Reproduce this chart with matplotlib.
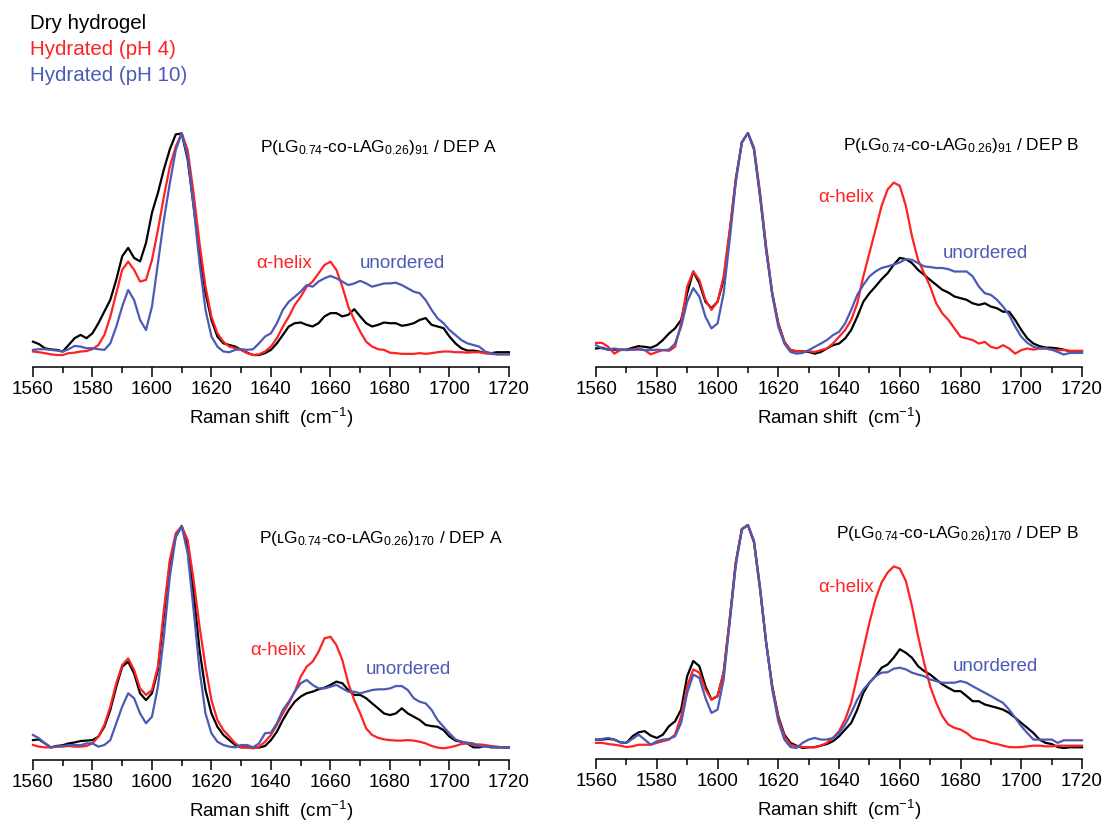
import numpy as np
import matplotlib
matplotlib.use('Agg')
import matplotlib.pyplot as plt
from matplotlib.ticker import MultipleLocator

plt.rcParams['font.family'] = ['Liberation Sans', 'DejaVu Sans']
plt.rcParams['mathtext.fontset'] = 'custom'
plt.rcParams['mathtext.rm'] = 'Liberation Sans'
plt.rcParams['mathtext.it'] = 'Liberation Sans:italic'

# Raman shift grid (cm-1), every 2 cm-1
wavenumber = np.arange(1560, 1721, 2)

# P(LG-co-LAG)91 / DEP A  (normalised, 1610 band = 100)
dry_91_A = [10.8, 9.8, 8.0, 7.5, 7.3, 6.6, 9.4, 12.3, 13.7, 12.3,
            14.4, 18.7, 23.7, 28.7, 37.3, 47.3, 50.9, 46.6, 45.1, 53.0,
            65.9, 74.4, 84.4, 93.0, 99.4, 99.8, 88.7, 68.7, 48.7, 31.6,
            20.1, 13.0, 10.1, 9.4, 8.7, 7.3, 6.1, 5.1, 5.1, 5.9,
            7.3, 10.1, 13.7, 17.3, 18.7, 19.0, 18.0, 17.3, 18.7, 21.6,
            23.0, 23.0, 21.6, 22.3, 24.7, 21.6, 18.7, 17.3, 18.0, 19.0,
            18.7, 18.7, 17.6, 18.0, 18.7, 20.1, 20.9, 18.0, 17.3, 16.6,
            13.0, 10.1, 8.0, 7.0, 7.0, 6.6, 5.9, 5.9, 6.3, 6.3,
            6.3]
ph4_91_A = [6.6, 6.3, 5.9, 5.4, 5.1, 5.1, 5.9, 6.1, 6.6, 6.8,
            7.6, 9.4, 13.7, 21.5, 31.5, 41.5, 45.0, 41.5, 36.5, 37.2,
            45.7, 58.5, 72.8, 85.6, 94.2, 99.9, 92.7, 74.2, 52.8, 34.3,
            21.5, 14.4, 10.8, 8.7, 8.0, 7.3, 5.9, 5.1, 5.4, 6.6,
            8.7, 12.3, 17.2, 21.5, 26.5, 30.0, 34.3, 36.5, 40.0, 43.6,
            45.0, 41.5, 34.3, 25.8, 20.1, 15.1, 10.8, 8.7, 7.6, 7.3,
            6.1, 5.9, 5.6, 5.6, 5.6, 5.9, 5.6, 5.9, 6.3, 6.6,
            6.6, 6.3, 6.3, 6.1, 6.3, 6.3, 5.9, 5.6, 5.4, 5.4,
            5.4]
ph10_91_A = [7.3, 7.6, 7.6, 7.3, 7.0, 6.6, 7.6, 9.0, 8.7, 8.0,
             8.0, 7.6, 7.3, 10.1, 17.2, 25.8, 32.9, 28.6, 20.1, 15.8,
             25.8, 44.3, 62.8, 78.5, 92.7, 99.9, 89.9, 68.5, 44.3, 24.4,
             13.0, 8.7, 6.6, 6.3, 7.3, 7.6, 7.3, 7.6, 10.1, 13.0,
             14.4, 18.7, 24.4, 27.9, 30.0, 32.2, 35.0, 34.3, 36.5, 37.9,
             38.9, 37.9, 36.5, 35.0, 35.7, 36.8, 35.7, 34.3, 35.0, 35.7,
             35.7, 36.0, 35.0, 33.6, 32.2, 31.5, 28.6, 24.4, 20.8, 18.7,
             15.8, 13.7, 11.5, 10.1, 9.4, 8.7, 6.6, 5.9, 5.4, 5.4,
             5.4]

# P(LG-co-LAG)91 / DEP B
dry_91_B = [7.9, 8.2, 7.4, 7.4, 7.4, 7.4, 8.2, 8.9, 8.6, 8.2,
            9.3, 11.5, 14.3, 16.5, 20.1, 31.5, 40.8, 35.8, 27.9, 25.1,
            27.9, 37.2, 57.3, 80.2, 96.0, 100.0, 93.0, 73.0, 50.1, 31.5,
            18.6, 10.7, 7.2, 6.7, 6.7, 6.4, 5.7, 6.4, 7.9, 9.3,
            10.0, 12.2, 15.8, 21.5, 27.9, 31.5, 34.4, 37.5, 40.1, 43.7,
            46.6, 46.1, 44.4, 41.5, 39.4, 37.2, 35.1, 33.0, 31.8, 30.1,
            29.4, 28.7, 27.2, 26.5, 27.2, 25.8, 25.1, 23.6, 23.6, 20.1,
            15.8, 12.2, 10.0, 8.9, 8.3, 8.2, 7.9, 7.4, 6.7, 6.7,
            6.7]
ph4_91_B = [10.3, 10.3, 8.6, 5.7, 7.2, 7.4, 7.4, 7.9, 7.2, 5.4,
            6.4, 7.2, 6.9, 8.6, 18.6, 34.4, 40.8, 37.2, 28.7, 24.4,
            27.9, 38.7, 58.7, 80.2, 96.0, 100.0, 93.8, 74.5, 51.6, 31.5,
            18.6, 10.7, 7.4, 6.7, 6.7, 6.7, 6.4, 7.2, 7.9, 10.0,
            12.9, 15.8, 20.1, 27.2, 38.7, 48.7, 58.7, 68.8, 75.9, 78.8,
            77.4, 68.8, 55.9, 45.8, 40.1, 34.4, 27.2, 22.9, 20.1, 16.5,
            12.9, 12.2, 11.5, 10.0, 10.7, 8.6, 7.9, 9.3, 7.9, 5.7,
            7.2, 7.9, 7.4, 7.9, 7.9, 7.4, 7.2, 7.2, 6.9, 6.9,
            6.9]
ph10_91_B = [9.3, 7.9, 7.4, 7.9, 7.4, 7.2, 7.4, 7.4, 7.2, 7.2,
             7.4, 7.2, 7.4, 10.0, 17.2, 27.9, 33.7, 30.1, 21.5, 16.5,
             18.6, 31.5, 54.4, 78.8, 96.0, 100.0, 93.0, 73.0, 50.1, 30.8,
             17.2, 10.0, 6.4, 5.7, 6.0, 7.2, 8.6, 10.0, 11.5, 13.6,
             15.0, 18.6, 24.4, 30.8, 35.1, 38.7, 40.8, 42.3, 43.0, 43.7,
             44.7, 46.1, 45.8, 44.4, 43.0, 42.7, 42.3, 42.3, 41.8, 40.8,
             40.8, 40.8, 38.7, 34.4, 31.5, 30.8, 28.7, 25.8, 22.2, 17.2,
             12.9, 10.3, 8.6, 7.9, 7.9, 7.4, 6.4, 5.3, 6.0, 6.0,
             6.0]

# P(LG-co-LAG)170 / DEP A
dry_170_A = [8.5, 8.8, 7.1, 5.4, 6.0, 6.3, 7.1, 7.5, 8.1, 8.3,
             8.5, 10.0, 14.2, 21.4, 31.3, 39.9, 42.0, 37.0, 28.5, 25.6,
             28.5, 38.5, 61.3, 84.0, 95.4, 100.0, 91.2, 71.2, 47.0, 29.9,
             19.9, 14.2, 10.7, 8.5, 6.4, 5.4, 5.4, 5.4, 5.3, 6.0,
             8.5, 12.1, 17.1, 21.4, 24.9, 27.1, 28.5, 29.2, 30.2, 30.9,
             32.1, 33.5, 32.8, 29.9, 27.8, 27.8, 26.4, 24.2, 22.1, 19.9,
             19.2, 19.9, 22.1, 19.9, 18.5, 17.1, 15.0, 14.5, 14.2, 12.8,
             10.0, 8.3, 7.8, 7.1, 5.4, 5.4, 6.0, 5.4, 5.4, 5.4,
             5.3]
ph4_170_A = [6.4, 5.7, 5.4, 5.4, 5.7, 5.7, 6.0, 5.7, 5.7, 6.0,
             7.1, 10.0, 15.0, 22.8, 32.8, 40.6, 43.4, 38.5, 30.6, 27.8,
             29.9, 39.9, 64.1, 85.5, 96.9, 100.0, 94.0, 76.9, 57.0, 39.9,
             25.6, 17.1, 12.8, 10.0, 7.1, 5.4, 5.4, 5.0, 5.7, 7.8,
             10.7, 15.0, 19.9, 24.2, 29.2, 35.6, 39.9, 42.0, 46.3, 52.0,
             52.7, 49.1, 42.7, 32.8, 25.6, 19.9, 13.5, 10.7, 9.5, 8.8,
             8.5, 8.3, 8.3, 8.5, 8.3, 7.8, 7.1, 6.0, 5.3, 5.0,
             5.4, 6.0, 6.8, 7.1, 6.4, 6.7, 6.4, 6.0, 5.7, 5.4,
             5.4]
ph10_170_A = [10.7, 9.3, 7.1, 5.4, 5.7, 6.0, 6.3, 6.4, 6.3, 7.1,
              7.1, 5.7, 6.4, 8.5, 15.7, 22.8, 28.5, 26.4, 19.9, 15.7,
              18.5, 31.3, 52.7, 78.3, 95.4, 100.0, 88.3, 64.1, 38.5, 19.9,
              11.4, 7.8, 6.4, 5.7, 5.4, 6.4, 6.4, 5.4, 7.1, 11.4,
              11.7, 15.7, 21.4, 24.9, 29.2, 32.8, 34.2, 32.1, 30.6, 30.6,
              31.3, 32.1, 30.6, 29.2, 29.2, 28.5, 29.2, 29.9, 30.2, 30.2,
              30.6, 31.6, 31.6, 29.9, 26.4, 24.9, 24.2, 21.4, 17.1, 14.2,
              11.4, 8.8, 7.8, 7.4, 7.1, 6.0, 5.7, 5.7, 5.4, 5.4,
              5.4]

# P(LG-co-LAG)170 / DEP B
dry_170_B = [8.3, 8.3, 8.6, 8.3, 7.1, 6.9, 9.7, 11.4, 11.9, 10.0,
             9.0, 10.4, 14.0, 16.1, 21.1, 35.4, 41.9, 39.7, 31.1, 25.4,
             26.9, 36.9, 59.7, 84.0, 98.3, 100.0, 92.6, 72.6, 49.7, 31.1,
             18.3, 10.4, 6.9, 5.7, 4.7, 5.0, 5.1, 5.7, 6.4, 7.6,
             9.7, 12.6, 15.4, 21.1, 28.3, 32.6, 35.4, 39.0, 40.4, 43.3,
             46.9, 45.4, 43.3, 39.7, 37.6, 36.1, 34.0, 31.9, 30.4, 29.0,
             29.0, 26.9, 24.7, 24.7, 23.3, 22.6, 21.9, 21.1, 19.7, 17.6,
             15.4, 13.3, 11.1, 8.3, 6.9, 6.4, 5.1, 4.7, 5.0, 5.0,
             5.0]
ph4_170_B = [6.9, 6.9, 6.4, 6.1, 5.7, 5.1, 5.4, 6.1, 6.1, 6.1,
             6.9, 7.6, 8.3, 10.4, 18.3, 31.1, 38.3, 36.9, 29.7, 25.4,
             26.9, 36.9, 59.7, 84.0, 98.3, 100.0, 92.6, 72.6, 49.7, 31.1,
             17.6, 9.7, 6.1, 5.4, 5.1, 5.1, 5.0, 5.7, 6.9, 9.0,
             11.9, 16.9, 24.0, 35.4, 46.9, 58.3, 68.3, 75.4, 79.7, 82.3,
             81.4, 76.1, 65.4, 52.6, 41.1, 31.1, 24.0, 18.3, 14.7, 13.3,
             12.6, 11.1, 9.0, 8.3, 7.9, 6.9, 6.4, 5.7, 5.1, 5.0,
             5.1, 5.4, 5.7, 5.7, 5.4, 5.4, 5.7, 5.7, 5.7, 5.7,
             5.7]
ph10_170_B = [8.3, 8.6, 9.0, 8.3, 7.1, 6.9, 8.6, 10.4, 8.3, 6.1,
              7.6, 8.3, 8.6, 9.7, 15.4, 28.3, 36.1, 34.7, 26.1, 19.7,
              21.1, 34.0, 58.3, 82.6, 98.0, 100.0, 93.3, 73.3, 49.7, 29.7,
              16.1, 8.3, 5.1, 4.7, 6.9, 8.3, 9.0, 8.3, 8.3, 9.0,
              11.1, 14.7, 19.7, 25.4, 29.7, 32.6, 35.4, 36.9, 37.1, 38.6,
              39.0, 38.3, 36.9, 36.1, 35.4, 34.0, 33.3, 32.6, 32.6, 32.6,
              33.3, 32.6, 31.1, 29.7, 28.3, 26.9, 25.4, 24.0, 21.1, 17.6,
              14.0, 11.1, 8.3, 8.3, 8.3, 8.3, 6.9, 8.0, 8.0, 8.0,
              8.0]

sample_titles = [
    r'P(ʟG$_{0.74}$-co-ʟAG$_{0.26}$)$_{91}$ / DEP A',
    r'P(ʟG$_{0.74}$-co-ʟAG$_{0.26}$)$_{91}$ / DEP B',
    r'P(ʟG$_{0.74}$-co-ʟAG$_{0.26}$)$_{170}$ / DEP A',
    r'P(ʟG$_{0.74}$-co-ʟAG$_{0.26}$)$_{170}$ / DEP B',
]
series_names = ['Dry hydrogel', 'Hydrated (pH 4)', 'Hydrated (pH 10)']
series_colors = ['black', '#ff2222', '#4b5ab4']

spectra = [
    (dry_91_A, ph4_91_A, ph10_91_A),
    (dry_91_B, ph4_91_B, ph10_91_B),
    (dry_170_A, ph4_170_A, ph10_170_A),
    (dry_170_B, ph4_170_B, ph10_170_B),
]

# axes rectangles in figure fraction
rects = [
    [0.0297, 0.5552, 0.4288, 0.2836],
    [0.5370, 0.5552, 0.4378, 0.2836],
    [0.0297, 0.0788, 0.4288, 0.2836],
    [0.5370, 0.0800, 0.4378, 0.2836],
]
# (title x, title y, helix x, helix y, unordered x, unordered y) in data units
label_pos = [
    (1716, 91.9, 1635, 44.4, 1670, 44.4),
    (1719, 92.7, 1633, 72.6, 1674, 48.7),
    (1718, 92.7, 1633, 47.0, 1672, 38.5),
    (1719, 94.4, 1633, 73.5, 1677.5, 39.7),
]

fig = plt.figure(figsize=(11.1, 8.25), dpi=100)

for i in range(4):
    ax = fig.add_axes(rects[i])
    for ys, color in zip(spectra[i], series_colors):
        if len(ys) != len(wavenumber):
            raise ValueError(f'panel {i}: {len(ys)} values')
        ax.plot(wavenumber, ys, color=color, linewidth=1.6, clip_on=False)

    ax.set_xlim(1560, 1720)
    ax.set_ylim(0, 100)
    ax.xaxis.set_major_locator(MultipleLocator(20))
    ax.xaxis.set_minor_locator(MultipleLocator(10))
    ax.tick_params(axis='x', which='major', direction='out', length=7, width=1.1,
                   labelsize=13.5, pad=3)
    ax.tick_params(axis='x', which='minor', direction='out', length=4, width=1.1)
    ax.set_yticks([])
    for side in ['left', 'right', 'top']:
        ax.spines[side].set_visible(False)
    ax.spines['bottom'].set_linewidth(1.1)
    ax.set_xlabel('Raman shift  (cm$^{-1}$)', fontsize=13.5, labelpad=6)

    tx, ty, hx, hy, ux, uy = label_pos[i]
    ax.text(tx, ty, sample_titles[i], ha='right', va='baseline', fontsize=12.5)
    ax.text(hx, hy, 'α-helix', color=series_colors[1], ha='left', va='center', fontsize=13.5)
    ax.text(ux, uy, 'unordered', color=series_colors[2], ha='left', va='center', fontsize=13.5)

# legend as coloured text lines
for k, (name, color) in enumerate(zip(series_names, series_colors)):
    fig.text(0.027, 0.972 - k * 0.0315, name, color=color, fontsize=14.8,
             ha='left', va='center')

fig.savefig('out.png', dpi=100)
